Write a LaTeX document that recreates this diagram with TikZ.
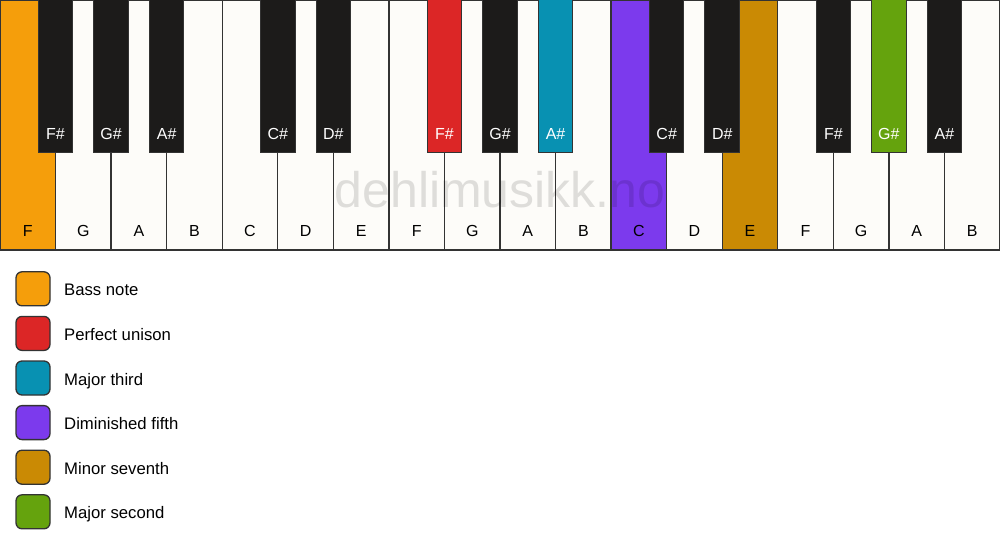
\documentclass[tikz,border=0pt]{standalone}
\usepackage{fontspec}
\setmainfont{Liberation Sans}
\definecolor{keywhite}{HTML}{FDFCF9}
\definecolor{keyblack}{HTML}{1C1B1A}
\definecolor{keyline}{HTML}{333333}
\definecolor{cbass}{HTML}{F59E0B}
\definecolor{cunison}{HTML}{DC2626}
\definecolor{cthird}{HTML}{0891B2}
\definecolor{cfifth}{HTML}{7C3AED}
\definecolor{cseventh}{HTML}{CA8A04}
\definecolor{csecond}{HTML}{65A30D}
\tikzset{
  whitekey/.style={draw=keyline, line width=1.3pt, fill=#1, minimum width=55.56pt, minimum height=250pt, inner sep=0pt, outer sep=0pt, anchor=north west},
  blackkey/.style={draw=keyline, line width=1pt, fill=#1, minimum width=34.5pt, minimum height=153pt, inner sep=0pt, outer sep=0pt, anchor=north},
  wlabel/.style={font=\fontsize{16pt}{18pt}\selectfont, text=black, anchor=base, inner sep=0pt},
  blabel/.style={font=\fontsize{16pt}{18pt}\selectfont, text=white, anchor=base, inner sep=0pt},
  legbox/.style={draw=keyline, line width=1.3pt, fill=#1, minimum width=34pt, minimum height=34pt, rounded corners=6pt, inner sep=0pt},
  legtext/.style={font=\fontsize{16.7pt}{18pt}\selectfont, anchor=base west, inner sep=0pt},
  watermark/.style={font=\fontsize{50pt}{60pt}\selectfont, text=black, text opacity=0.12, anchor=base, inner sep=0pt}
}
\begin{document}
\begin{tikzpicture}[x=1pt,y=-1pt]
\useasboundingbox[fill=white] (0,0) rectangle (1000,550);
% white keys
\foreach \i/\n/\c in {0/F/cbass,1/G/keywhite,2/A/keywhite,3/B/keywhite,4/C/keywhite,5/D/keywhite,6/E/keywhite,7/F/keywhite,8/G/keywhite,9/A/keywhite,10/B/keywhite,11/C/cfifth,12/D/keywhite,13/E/cseventh,14/F/keywhite,15/G/keywhite,16/A/keywhite,17/B/keywhite}{
  \node[whitekey=\c] (w\i) at ({\i*55.5556},0) {};
  \node[wlabel] (wl\i) at ({(\i+0.5)*55.5556},236.5) {\n};
}
% black keys
\foreach \i/\n/\c in {1/F\#/keyblack,2/G\#/keyblack,3/A\#/keyblack,5/C\#/keyblack,6/D\#/keyblack,8/F\#/cunison,9/G\#/keyblack,10/A\#/cthird,12/C\#/keyblack,13/D\#/keyblack,15/F\#/keyblack,16/G\#/csecond,17/A\#/keyblack}{
  \node[blackkey=\c] (b\i) at ({\i*55.5556},-1) {};
  \node[blabel] (bl\i) at ({\i*55.5556},139.5) {\n};
}
% watermark
\node[watermark] (wm) at (500,207) {dehlimusikk.no};
% legend
\foreach \k/\c/\t in {0/cbass/Bass note,1/cunison/Perfect unison,2/cthird/Major third,3/cfifth/Diminished fifth,4/cseventh/Minor seventh,5/csecond/Major second}{
  \node[legbox=\c] (lb\k) at (33,{288.8+\k*44.6}) {};
  \node[legtext] (lt\k) at (64,{295.8+\k*44.6}) {\t};
}
\end{tikzpicture}
\end{document}
